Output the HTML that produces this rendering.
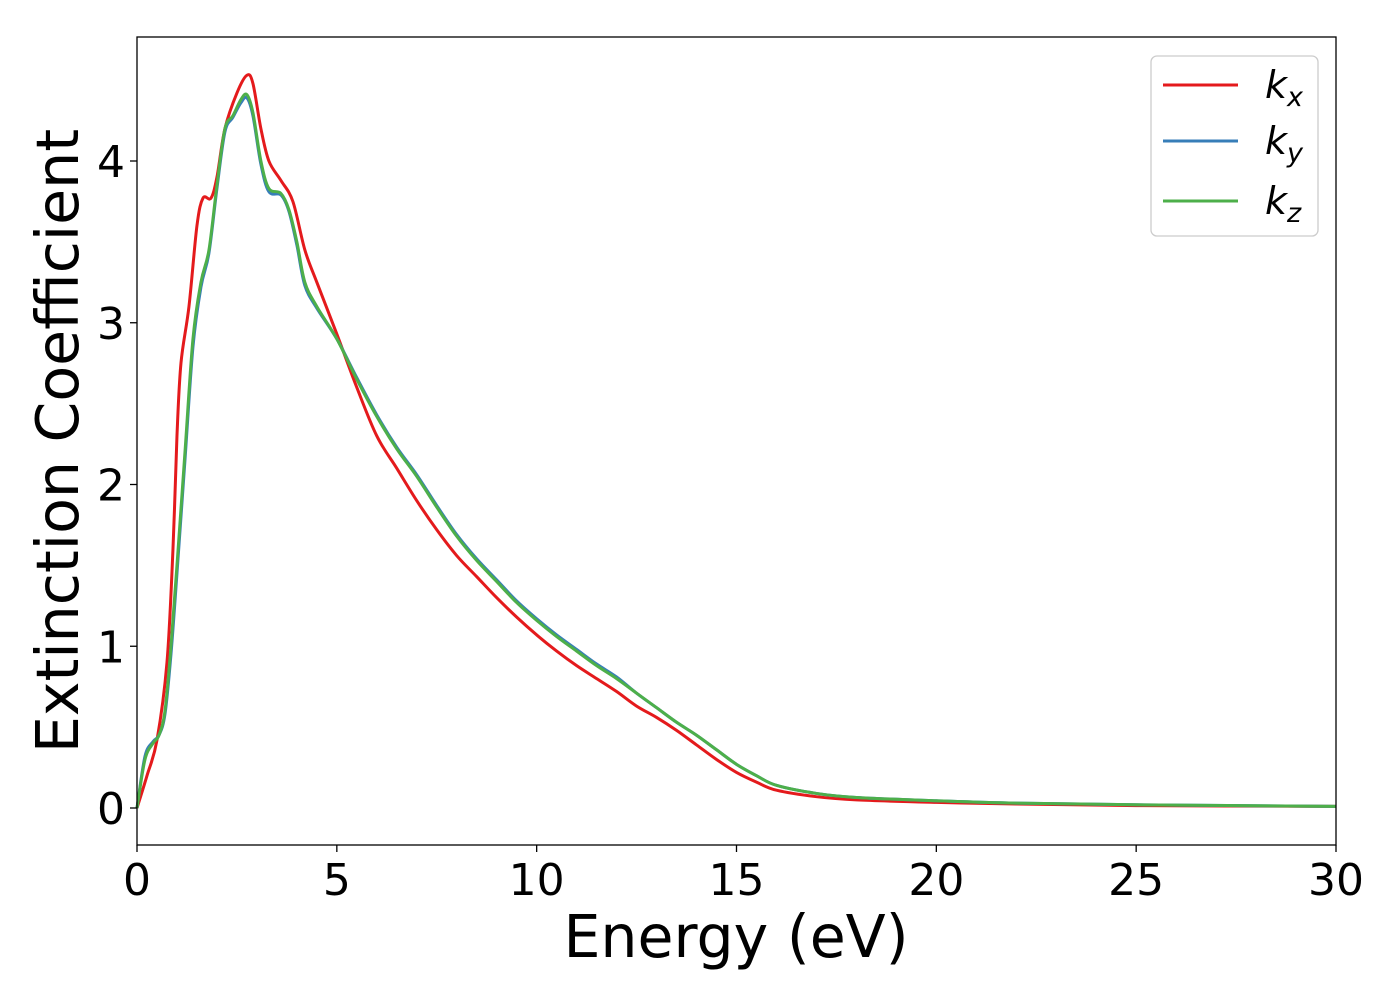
<!DOCTYPE html>
<html><head><meta charset="utf-8"><style>
body{margin:0;background:#fff;}
svg text{font-family:"DejaVu Sans","Liberation Sans",sans-serif;}
</style></head><body>
<svg id="chart" width="1400" height="1000" viewBox="0 0 1400 1000" xmlns="http://www.w3.org/2000/svg">
<g id="series"></g>
<rect x="137" y="37" width="1199" height="808" fill="none" stroke="#000" stroke-width="1.3"/>
<g id="axes"></g>
<text x="736" y="957" font-size="58.5" text-anchor="middle">Energy (eV)</text>
<text transform="translate(78,441) rotate(-90)" font-size="58.5" text-anchor="middle">Extinction Coefficient</text>
<g>
<rect x="1151" y="56" width="167" height="180" rx="6" fill="#fff" stroke="#ccc" stroke-width="1.3"/>
<line x1="1163" y1="85" x2="1238" y2="85" stroke="#e41a1c" stroke-width="3"/>
<line x1="1163" y1="141" x2="1238" y2="141" stroke="#377eb8" stroke-width="3"/>
<line x1="1163" y1="201" x2="1238" y2="201" stroke="#4daf4a" stroke-width="3"/>
<text x="1265" y="98" font-size="38" font-style="italic">k<tspan font-size="27" dy="8">x</tspan></text>
<text x="1265" y="154" font-size="38" font-style="italic">k<tspan font-size="27" dy="8">y</tspan></text>
<text x="1265" y="214" font-size="38" font-style="italic">k<tspan font-size="27" dy="8">z</tspan></text>
</g>
</svg>
<script>
const xTicks=[0,5,10,15,20,25,30];
const yTicks=[0,1,2,3,4];
const kxE=[0,0.25,0.5,0.75,0.9,1.0,1.1,1.3,1.5,1.65,1.85,2.0,2.2,2.5,2.75,2.9,3.1,3.3,3.6,3.9,4.2,4.5,5,5.5,6,6.5,7,7.5,8,8.5,9,9.5,10,10.5,11,11.5,12,12.5,13,13.5,14,14.5,15,15.5,16,17,18,20,22,25,30];
const kxV=[0,0.2,0.42,0.9,1.6,2.3,2.75,3.1,3.6,3.77,3.77,3.9,4.2,4.42,4.53,4.48,4.2,4.0,3.88,3.75,3.45,3.25,2.93,2.6,2.3,2.1,1.9,1.72,1.56,1.43,1.3,1.18,1.07,0.97,0.88,0.8,0.72,0.63,0.56,0.48,0.39,0.3,0.22,0.16,0.11,0.07,0.05,0.035,0.025,0.015,0.01];
const kzE=[0,0.2,0.4,0.55,0.7,0.85,1.0,1.2,1.4,1.6,1.8,2.0,2.2,2.4,2.6,2.75,2.9,3.1,3.3,3.6,3.8,4.0,4.2,4.5,5,5.5,6,6.5,7,7.5,8,8.5,9,9.5,10,10.5,11,11.5,12,12.5,13,13.5,14,14.5,15,15.5,16,17,18,20,22,25,30];
const kzV=[0,0.3,0.4,0.45,0.6,1.0,1.5,2.2,2.9,3.25,3.45,3.85,4.2,4.28,4.38,4.41,4.3,4.0,3.83,3.8,3.7,3.5,3.25,3.1,2.9,2.65,2.42,2.22,2.05,1.86,1.68,1.53,1.4,1.27,1.16,1.06,0.97,0.88,0.8,0.71,0.62,0.53,0.45,0.36,0.27,0.2,0.14,0.09,0.065,0.045,0.03,0.02,0.01];
const kyE=kzE;
const kyV=[0,0.32,0.41,0.45,0.58,0.95,1.45,2.15,2.85,3.22,3.43,3.83,4.18,4.27,4.36,4.39,4.28,3.98,3.81,3.79,3.69,3.48,3.23,3.09,2.9,2.66,2.43,2.23,2.06,1.87,1.69,1.54,1.41,1.28,1.17,1.07,0.98,0.89,0.81,0.71,0.62,0.53,0.45,0.36,0.27,0.2,0.14,0.09,0.065,0.045,0.03,0.02,0.01];
const X=e=>137+e*(1336-137)/30;
const Y=v=>808-v*161.75;
const NS='http://www.w3.org/2000/svg';
function pathFor(E,V){
  const p=E.map((e,i)=>[X(e),Y(V[i])]);
  let d='M'+p[0][0]+','+p[0][1];
  for(let i=0;i<p.length-1;i++){
    const p0=p[Math.max(0,i-1)],p1=p[i],p2=p[i+1],p3=p[Math.min(p.length-1,i+2)];
    const c1x=p1[0]+(p2[0]-p0[0])/6,c1y=p1[1]+(p2[1]-p0[1])/6;
    const c2x=p2[0]-(p3[0]-p1[0])/6,c2y=p2[1]-(p3[1]-p1[1])/6;
    d+=' C'+c1x+','+c1y+' '+c2x+','+c2y+' '+p2[0]+','+p2[1];
  }
  return d;
}
const sg=document.getElementById('series');
[[kxE,kxV,'#e41a1c','line-kx'],[kyE,kyV,'#377eb8','line-ky'],[kzE,kzV,'#4daf4a','line-kz']].forEach(s=>{
  const el=document.createElementNS(NS,'path');
  el.setAttribute('d',pathFor(s[0],s[1]));
  el.setAttribute('fill','none');el.setAttribute('stroke',s[2]);el.setAttribute('stroke-width','3');
  
  
  sg.appendChild(el);
});
const ag=document.getElementById('axes');
xTicks.forEach(t=>{
  const l=document.createElementNS(NS,'line');
  l.setAttribute('x1',X(t));l.setAttribute('x2',X(t));l.setAttribute('y1',845);l.setAttribute('y2',852);l.setAttribute('stroke','#000');l.setAttribute('stroke-width','1.3');
  
  
  ag.appendChild(l);
  const tx=document.createElementNS(NS,'text');
  tx.setAttribute('x',X(t));tx.setAttribute('y',895);tx.setAttribute('font-size','44');tx.setAttribute('text-anchor','middle');
  tx.textContent=t;
  
  
  ag.appendChild(tx);
});
yTicks.forEach(t=>{
  const l=document.createElementNS(NS,'line');
  l.setAttribute('x1',130);l.setAttribute('x2',137);l.setAttribute('y1',Y(t));l.setAttribute('y2',Y(t));l.setAttribute('stroke','#000');l.setAttribute('stroke-width','1.3');
  
  
  ag.appendChild(l);
  const tx=document.createElementNS(NS,'text');
  tx.setAttribute('x',125);tx.setAttribute('y',Y(t)+16);tx.setAttribute('font-size','44');tx.setAttribute('text-anchor','end');
  tx.textContent=t;
  
  
  ag.appendChild(tx);
});
</script>
</body></html>
